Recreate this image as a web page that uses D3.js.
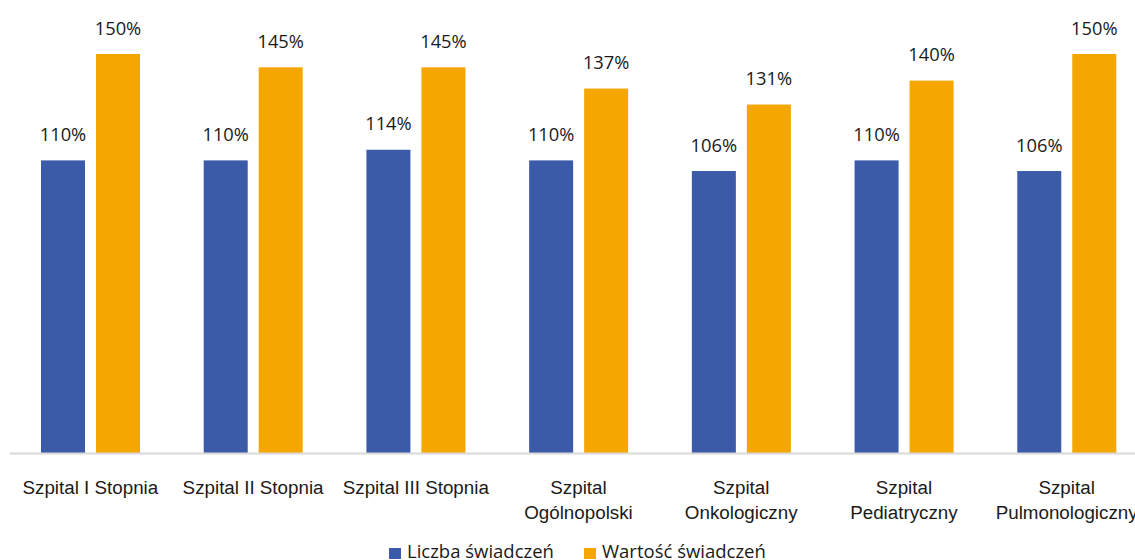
<!DOCTYPE html>
<html>
<head>
<meta charset="utf-8">
<script src="https://cdn.jsdelivr.net/npm/d3@7"></script>
<style>
  html, body { margin: 0; padding: 0; background: #fff; }
  svg { display: block; font-family: "Open Sans", "Noto Sans", sans-serif; }
</style>
</head>
<body>
<svg id="chart" width="1135" height="560"></svg>
<script>
// Hospital categories (tick labels, with line breaks)
const categories = [
  "Szpital I Stopnia",
  "Szpital II Stopnia",
  "Szpital III Stopnia",
  "Szpital\nOgólnopolski",
  "Szpital\nOnkologiczny",
  "Szpital\nPediatryczny",
  "Szpital\nPulmonologiczny"
];
const seriesNames = ["Liczba świadczeń", "Wartość świadczeń"];
const liczba = [110, 110, 114, 110, 106, 110, 106];
const wartosc = [150, 145, 145, 137, 131, 140, 150];
const colors = ["#3B5BA8", "#F6A600"];

const svg = d3.select("#chart");
const baseY = 453;

const x0 = d3.scaleBand().domain(categories).range([9, 1148]).padding(0);
const x1 = d3.scaleBand().domain(seriesNames)
  .range([32, 131]).paddingInner(0.2).paddingOuter(0);
const y = d3.scaleLinear().domain([0, 160]).range([baseY, 27.4]);

const rows = categories.map((c, i) => ({ cat: c, vals: [liczba[i], wartosc[i]] }));

const groups = svg.append("g").selectAll("g")
  .data(rows).join("g")
  .attr("transform", d => `translate(${x0(d.cat)},0)`);

groups.selectAll("rect")
  .data(d => d.vals.map((v, k) => ({ v, k })))
  .join("rect")
  .attr("x", d => x1(seriesNames[d.k]))
  .attr("y", d => y(d.v))
  .attr("width", x1.bandwidth())
  .attr("height", d => y(0) - y(d.v))
  .attr("fill", d => colors[d.k]);

groups.selectAll("text.val")
  .data(d => d.vals.map((v, k) => ({ v, k })))
  .join("text")
  .attr("class", "val")
  .attr("x", d => x1(seriesNames[d.k]) + x1.bandwidth() / 2)
  .attr("y", d => y(d.v) - 19.5)
  .attr("text-anchor", "middle")
  .attr("font-size", "18.3px")
  .attr("fill", "#1a1a1a")
  .text(d => d.v + "%");

// Category axis
const xAxis = d3.axisBottom(x0).tickSize(0).tickFormat("");
const axisG = svg.append("g").attr("transform", `translate(0,${baseY})`).call(xAxis);
axisG.select(".domain").attr("stroke", "#d9d9d9").attr("stroke-width", 2);

axisG.selectAll(".tick").each(function (d) {
  const t = d3.select(this).append("text")
    .attr("text-anchor", "middle")
    .attr("fill", "#1a1a1a")
    .attr("font-size", "18.8px");
  d.split("\n").forEach((line, i) => {
    t.append("tspan").attr("x", 0).attr("y", 41 + i * 25).text(line);
  });
});

// Legend
const legend = svg.append("g");
const legendX = [389, 584];
seriesNames.forEach((name, k) => {
  legend.append("rect")
    .attr("x", legendX[k]).attr("y", 548)
    .attr("width", 12).attr("height", 11)
    .attr("fill", colors[k]);
  legend.append("text")
    .attr("x", legendX[k] + 18).attr("y", 558)
    .attr("font-size", "18.5px")
    .attr("fill", "#1a1a1a")
    .text(name);
});
</script>
</body>
</html>
